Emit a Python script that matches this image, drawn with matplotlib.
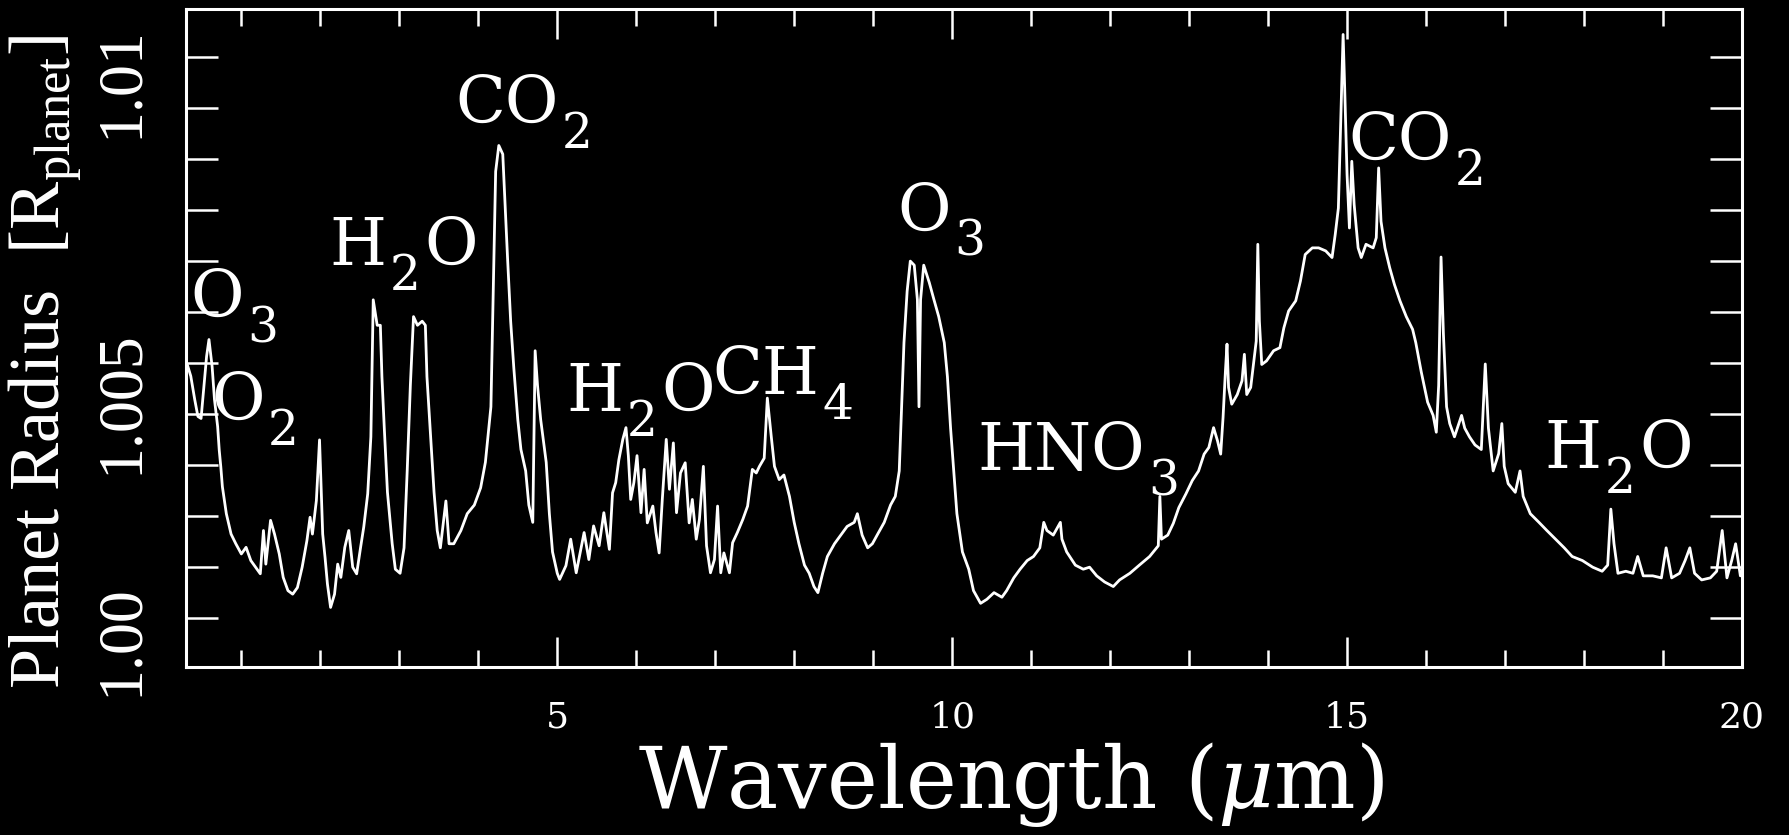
import numpy as np
import matplotlib.pyplot as plt
from matplotlib.ticker import FixedLocator, FixedFormatter, MultipleLocator
from matplotlib.transforms import ScaledTranslation

plt.rcParams['mathtext.fontset'] = 'custom'
plt.rcParams['mathtext.rm'] = 'Liberation Serif'
plt.rcParams['mathtext.it'] = 'DejaVu Serif:italic'

# spectrum: wavelength (micron) and (R_planet - 1) in units of 1e-3
wl_short = [
    0.30, 0.36, 0.41, 0.45, 0.49, 0.53, 0.56, 0.59, 0.63, 0.66,
    0.70, 0.72, 0.74, 0.76, 0.81, 0.87, 0.93, 1.00, 1.06, 1.12,
    1.18, 1.24, 1.28, 1.31, 1.37, 1.42, 1.48, 1.53, 1.59, 1.65,
    1.71, 1.77, 1.83, 1.87, 1.90, 1.95, 1.99, 2.01, 2.03, 2.06,
    2.09, 2.13, 2.18, 2.22, 2.26, 2.31, 2.36, 2.41, 2.46, 2.51,
    2.55, 2.60, 2.64, 2.67, 2.72, 2.76, 2.78, 2.81, 2.85, 2.91,
    2.95, 3.01, 3.06, 3.10, 3.14, 3.18, 3.23, 3.29, 3.33, 3.35,
    3.39, 3.44, 3.48, 3.52, 3.59, 3.63, 3.69, 3.78, 3.86, 3.95,
    4.03, 4.09, 4.16, 4.19, 4.22, 4.26, 4.31, 4.33, 4.37, 4.41,
    4.45, 4.50, 4.54, 4.60, 4.64, 4.69, 4.72, 4.75, 4.79, 4.86,
    4.90, 4.94, 5.00,
]
dr_short = [
    5.05, 4.74, 4.28, 3.95, 3.91, 4.61, 5.13, 5.46, 4.93, 4.28,
    3.75, 3.29, 2.96, 2.57, 2.04, 1.64, 1.45, 1.25, 1.38, 1.12,
    0.99, 0.86, 1.71, 1.05, 1.91, 1.64, 1.25, 0.79, 0.53, 0.46,
    0.59, 0.99, 1.51, 1.97, 1.64, 2.30, 3.49, 2.57, 1.64, 1.18,
    0.66, 0.20, 0.46, 1.05, 0.79, 1.38, 1.71, 0.99, 0.86, 1.38,
    1.78, 2.43, 3.55, 6.24, 5.74, 5.74, 4.73, 3.72, 2.46, 1.45,
    0.95, 0.87, 1.37, 2.88, 4.56, 5.91, 5.74, 5.82, 5.74, 4.73,
    3.72, 2.46, 1.71, 1.37, 2.29, 1.45, 1.45, 1.71, 2.04, 2.21,
    2.55, 3.05, 4.14, 6.41, 8.76, 9.27, 9.10, 8.43, 7.08, 5.82,
    4.90, 3.89, 3.30, 2.88, 2.21, 1.87, 5.24, 4.56, 3.89, 3.05,
    2.04, 1.29, 0.87,
]

wl_mid = [
    5.03, 5.11, 5.17, 5.24, 5.34, 5.40, 5.46, 5.53, 5.59, 5.66,
    5.70, 5.74, 5.78, 5.83, 5.87, 5.90, 5.93, 5.97, 6.01, 6.06,
    6.10, 6.14, 6.21, 6.25, 6.29, 6.33, 6.38, 6.42, 6.47, 6.51,
    6.56, 6.62, 6.67, 6.71, 6.76, 6.80, 6.85, 6.89, 6.94, 6.99,
    7.03, 7.07, 7.11, 7.18, 7.22, 7.28, 7.35, 7.41, 7.47, 7.52,
    7.56, 7.62, 7.66, 7.71, 7.75, 7.81, 7.87, 7.94, 8.00, 8.06,
    8.13, 8.19, 8.25, 8.30, 8.36, 8.42, 8.51, 8.59, 8.67, 8.76,
    8.80, 8.86, 8.93, 8.99, 9.05, 9.14, 9.22, 9.28, 9.33, 9.35,
    9.39, 9.43, 9.47, 9.52, 9.56, 9.58, 9.60, 9.64, 9.71, 9.77,
    9.83, 9.90, 9.94, 9.98, 10.02, 10.06, 10.13, 10.21,
]
dr_mid = [
    0.75, 1.02, 1.54, 0.88, 1.67, 1.14, 1.80, 1.41, 2.06, 1.34,
    2.45, 2.65, 3.10, 3.50, 3.73, 3.18, 2.32, 2.65, 3.18, 2.06,
    2.91, 1.86, 2.19, 1.67, 1.27, 2.32, 3.50, 2.52, 3.43, 2.06,
    2.84, 3.04, 1.86, 2.32, 1.54, 1.93, 2.97, 1.41, 0.88, 1.14,
    2.19, 0.88, 1.27, 0.88, 1.47, 1.67, 1.93, 2.19, 2.91, 2.84,
    2.97, 3.13, 4.31, 3.55, 2.97, 2.71, 2.80, 2.38, 1.87, 1.45,
    1.03, 0.87, 0.61, 0.49, 0.87, 1.20, 1.45, 1.62, 1.79, 1.87,
    2.04, 1.62, 1.37, 1.45, 1.62, 1.87, 2.21, 2.38, 2.88, 3.72,
    5.40, 6.41, 7.00, 6.92, 6.24, 4.14, 6.24, 6.92, 6.58, 6.24,
    5.91, 5.40, 4.73, 3.72, 2.88, 2.04, 1.29, 0.95,
]

wl_co2 = [
    10.27, 10.36, 10.44, 10.53, 10.63, 10.69, 10.78, 10.86, 10.95, 11.03,
    11.11, 11.16, 11.20, 11.28, 11.37, 11.39, 11.45, 11.56, 11.66, 11.74,
    11.83, 11.93, 12.04, 12.12, 12.25, 12.37, 12.50, 12.61, 12.63, 12.65,
    12.73, 12.80, 12.87, 12.96, 13.04, 13.12, 13.19, 13.25, 13.31, 13.36,
    13.40, 13.43, 13.46, 13.48, 13.50, 13.54, 13.61, 13.67, 13.70, 13.73,
    13.78, 13.82, 13.85, 13.87, 13.89, 13.92, 13.98, 14.07, 14.15, 14.20,
    14.26, 14.35, 14.41, 14.47, 14.56, 14.64, 14.73, 14.81, 14.85, 14.89,
    14.92, 14.95, 14.97, 15.00, 15.03, 15.06, 15.09, 15.14, 15.18, 15.24,
    15.33, 15.37, 15.40, 15.43, 15.48, 15.54, 15.60, 15.67,
]
dr_co2 = [
    0.53, 0.28, 0.36, 0.49, 0.40, 0.53, 0.78, 0.95, 1.12, 1.20,
    1.37, 1.87, 1.71, 1.62, 1.87, 1.54, 1.29, 1.03, 0.95, 0.99,
    0.82, 0.70, 0.61, 0.74, 0.87, 1.03, 1.20, 1.41, 2.38, 1.54,
    1.62, 1.85, 2.16, 2.43, 2.69, 2.88, 3.21, 3.34, 3.73, 3.47,
    3.21, 3.93, 4.84, 5.37, 4.52, 4.19, 4.38, 4.65, 5.17, 4.38,
    4.52, 5.04, 5.43, 7.33, 5.82, 4.97, 5.04, 5.24, 5.30, 5.69,
    6.02, 6.22, 6.61, 7.13, 7.26, 7.26, 7.20, 7.07, 7.52, 8.04,
    9.75, 11.45, 10.40, 8.70, 7.65, 8.96, 8.11, 7.26, 7.07, 7.33,
    7.26, 7.46, 8.83, 7.78, 7.26, 6.87, 6.54, 6.22,
]

wl_long = [
    15.75, 15.83, 15.87, 15.94, 16.02, 16.09, 16.13, 16.16, 16.19, 16.22,
    16.26, 16.30, 16.36, 16.45, 16.49, 16.55, 16.62, 16.70, 16.75, 16.79,
    16.85, 16.92, 16.96, 16.99, 17.04, 17.13, 17.19, 17.23, 17.32, 17.43,
    17.53, 17.64, 17.75, 17.85, 17.98, 18.11, 18.23, 18.30, 18.34, 18.38,
    18.43, 18.53, 18.62, 18.68, 18.75, 18.87, 18.98, 19.04, 19.11, 19.21,
    19.28, 19.34, 19.40, 19.49, 19.60, 19.68, 19.75, 19.81, 19.87, 19.92,
    19.98, 20.02,
]
dr_long = [
    5.91, 5.66, 5.40, 4.82, 4.23, 3.97, 3.64, 4.56, 7.08, 5.57,
    4.14, 3.81, 3.55, 3.97, 3.72, 3.55, 3.39, 3.30, 4.98, 3.72,
    2.88, 3.22, 3.81, 2.97, 2.63, 2.46, 2.88, 2.38, 2.04, 1.87,
    1.71, 1.54, 1.37, 1.20, 1.12, 0.99, 0.91, 1.03, 2.13, 1.45,
    0.87, 0.91, 0.87, 1.20, 0.82, 0.82, 0.78, 1.37, 0.78, 0.87,
    1.12, 1.37, 0.87, 0.74, 0.78, 0.91, 1.71, 0.78, 1.12, 1.45,
    0.82, 0.87,
]

# molecule labels: pieces (text, is_subscript) and where they sit
molecules = [
    [('O', False), ('3', True)],
    [('O', False), ('2', True)],
    [('H', False), ('2', True), ('O', False)],
    [('CO', False), ('2', True)],
    [('H', False), ('2', True), ('O', False)],
    [('CH', False), ('4', True)],
    [('O', False), ('3', True)],
    [('HNO', False), ('3', True)],
    [('CO', False), ('2', True)],
    [('H', False), ('2', True), ('O', False)],
]
mol_x = [0.36, 0.62, 2.12, 3.71, 5.12, 6.97, 9.31, 10.32, 15.02, 17.50]
mol_y = [5.90, 3.88, 6.93, 9.71, 4.06, 4.39, 7.60, 2.89, 8.99, 2.94]

x_major = [5, 10, 15, 20]
y_major = [1.000, 1.005, 1.010]
y_major_labels = ['1.00', '1.005', '1.01']

wavelength = np.concatenate([wl_short, wl_mid, wl_co2, wl_long])
radius = 1 + np.concatenate([dr_short, dr_mid, dr_co2, dr_long]) / 1000.0

fig = plt.figure(figsize=(17.89, 8.35), dpi=100, facecolor='black')
ax = fig.add_axes([0.104, 0.2012, 0.8697, 0.788])
ax.set_facecolor('black')

ax.plot(wavelength, radius, color='white', lw=2.0)

ax.set_xlim(0.3, 20.0)
ax.set_ylim(0.99903, 1.01195)

ax.xaxis.set_major_locator(FixedLocator(x_major))
ax.xaxis.set_minor_locator(MultipleLocator(1))
ax.yaxis.set_major_locator(FixedLocator(y_major))
ax.yaxis.set_major_formatter(FixedFormatter(y_major_labels))
ax.yaxis.set_minor_locator(MultipleLocator(0.001))

ax.tick_params(axis='x', which='major', direction='in', length=21.6, width=1.8,
               top=True, bottom=True, color='white', labelcolor='white',
               labelsize=26, pad=24)
ax.tick_params(axis='x', which='minor', direction='in', length=12, width=1.8,
               top=True, bottom=True, color='white')
ax.tick_params(axis='y', which='both', direction='in', length=23, width=1.8,
               left=True, right=True, color='white')
ax.tick_params(axis='y', which='major', labelcolor='white', labelsize=46,
               pad=25, labelrotation=90)

for lbl in ax.get_xticklabels():
    lbl.set_family('DejaVu Serif')
for lbl in ax.get_yticklabels():
    lbl.set_family('Liberation Serif')
    lbl.set_va('center')

# the radius labels in the original sit a little off their ticks
y_label_shift = [-16, -28, 19]
for tick, dy in zip(ax.yaxis.get_major_ticks(), y_label_shift):
    tick.label1.set_transform(tick.label1.get_transform()
                              + ScaledTranslation(0, dy / 72, fig.dpi_scale_trans))

for sp in ax.spines.values():
    sp.set_color('white')
    sp.set_linewidth(2.2)

ax.set_xlabel(r'Wavelength ($\mu$m)', family='DejaVu Serif', fontsize=62,
              color='white', va='baseline')
ax.xaxis.set_label_coords(0.53, -0.214)
ax.set_ylabel(r'Planet Radius  [$\mathrm{R}_{\mathrm{planet}}$]',
              family='Liberation Serif', fontsize=52, color='white', va='baseline')
ax.yaxis.set_label_coords(-0.081, 0.464)

FS = 47
SUB = 35
for parts, mx, my in zip(molecules, mol_x, mol_y):
    y0 = 1 + my / 1000.0
    prev = None
    for txt, sub in parts:
        size = SUB if sub else FS
        dy = -18 if sub else 0
        if prev is None:
            prev = ax.text(mx, y0, txt, fontsize=size, family='DejaVu Serif',
                           color='white', ha='left', va='baseline')
            continue
        gap = 2 if sub else 3
        prev = ax.annotate(txt, xy=(1, y0), xycoords=(prev, 'data'),
                           xytext=(gap, dy), textcoords='offset points',
                           fontsize=size, family='DejaVu Serif', color='white',
                           ha='left', va='baseline')

fig.savefig('out.png', dpi=100, facecolor='black')
